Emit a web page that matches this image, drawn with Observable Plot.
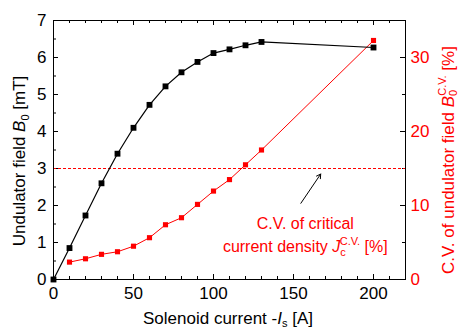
<!DOCTYPE html>
<html><head><meta charset="utf-8">
<script src="https://cdn.jsdelivr.net/npm/d3@7"></script>
<script src="https://cdn.jsdelivr.net/npm/@observablehq/plot@0.6"></script>
<style>body{margin:0;background:#fff} svg{font-family:"Liberation Sans",Arial,sans-serif}
svg g[aria-label$="tick label"]{font-size:17px !important}</style>
</head><body><div id="chart"></div>
<script>
// Undulator field B0 [mT] vs solenoid current
const current = [0,10,20,30,40,50,60,70,80,90,100,110,120,130,200];
const fieldB0 = [0,0.85,1.73,2.6,3.4,4.1,4.72,5.22,5.6,5.88,6.12,6.22,6.33,6.42,6.27];
// C.V. of critical current density [%]
const cvCurrent = [10,20,30,40,50,60,70,80,90,100,110,120,130,200];
const cvPercent = [2.35,2.8,3.4,3.75,4.5,5.65,7.4,8.35,10.15,11.95,13.5,15.5,17.5,32.3];
const thresholdPercent = 15; // C.V. of undulator field
const xMajorTicks = [0,50,100,150,200];
const xMinorTicks = [10,20,30,40,60,70,80,90,110,120,130,140,160,170,180,190,210];
const yLeftMajor = [0,1,2,3,4,5,6,7];
const yLeftMinor = [0.5,1.5,2.5,3.5,4.5,5.5,6.5];
const yRightMajor = [0,10,20,30];
const yRightMinor = [5,15,25,35];
const arrowFrom = {x:154.6, y:2.06};
const arrowTo = {x:167, y:2.85};
const annotX = 157.7, annotY1 = 1.36, annotY2 = 0.74;

const W = 459, H = 330, mL = 53, mR = 54, mT = 20, mB = 51;
const fw = W - mL - mR, fh = H - mT - mB;
const ratio = 5; // right % per left mT unit

const bData = current.map((c,i)=>({x:c, y:fieldB0[i]}));
const rData = cvCurrent.map((c,i)=>({x:c, y:cvPercent[i]/ratio}));

const plot = Plot.plot({
  width: W, height: H,
  marginLeft: mL, marginRight: mR, marginTop: mT, marginBottom: mB,
  x: {domain:[0,220], axis:null},
  y: {domain:[0,7], axis:null},
  style: {fontFamily:'"Liberation Sans",Arial,sans-serif', fontSize:"17px", background:"white"},
  marks: [
    Plot.axisX({ticks: xMajorTicks, tickSize:0, tickPadding:7, fontSize:17, label:null, fill:"black", tickFormat: d=>String(d)}),
    Plot.axisY({ticks: yLeftMajor, tickSize:0, tickPadding:7, fontSize:17, label:null, fill:"black", tickFormat: d=>String(d)}),
    Plot.axisY({anchor:"right", ticks: yRightMajor.map(v=>v/ratio), tickSize:0, tickPadding:5, fontSize:17, label:null, fill:"red", tickFormat: d=>String(Math.round(d*ratio))}),
    // inward ticks
    Plot.tickX(xMajorTicks, {x:d=>d, insetTop: fh-5, stroke:"black"}),
    Plot.tickX(xMinorTicks, {x:d=>d, insetTop: fh-3, stroke:"black"}),
    Plot.tickX(xMajorTicks, {x:d=>d, insetBottom: fh-5, stroke:"black"}),
    Plot.tickX(xMinorTicks, {x:d=>d, insetBottom: fh-3, stroke:"black"}),
    Plot.tickY(yLeftMajor, {y:d=>d, insetRight: fw-5, stroke:"black"}),
    Plot.tickY(yLeftMinor, {y:d=>d, insetRight: fw-3, stroke:"black"}),
    Plot.tickY(yRightMajor, {y:d=>d/ratio, insetLeft: fw-5, stroke:"black"}),
    Plot.tickY(yRightMinor, {y:d=>d/ratio, insetLeft: fw-3, stroke:"black"}),
    Plot.ruleY([thresholdPercent], {y:d=>d/ratio, stroke:"red", strokeWidth:1.2, strokeDasharray:"3,2"}),
    Plot.line(rData, {x:"x", y:"y", stroke:"red", strokeWidth:1}),
    Plot.dot(rData, {x:"x", y:"y", symbol:"square", r:2.9, fill:"red"}),
    Plot.line(bData, {x:"x", y:"y", stroke:"black", strokeWidth:1.2}),
    Plot.dot(bData, {x:"x", y:"y", symbol:"square", r:3.3, fill:"black"}),
    Plot.arrow([{x1:arrowFrom.x, y1:arrowFrom.y, x2:arrowTo.x, y2:arrowTo.y}], {x1:"x1", y1:"y1", x2:"x2", y2:"y2", stroke:"black", strokeWidth:1, headLength:7}),
    Plot.frame({stroke:"black", strokeWidth:1})
  ]
});
document.getElementById("chart").append(plot);

const svg = d3.select(plot);
const sx = plot.scale("x"), sy = plot.scale("y");
const fs = 17, fsSmall = 11;
// x label
const xl = svg.append("text").attr("x", 228).attr("y", 324).attr("text-anchor","middle").attr("font-size", fs).attr("fill","black");
xl.append("tspan").text("Solenoid current -");
xl.append("tspan").attr("font-style","italic").text("I");
xl.append("tspan").attr("font-size",fsSmall).attr("dy",3).text("s");
xl.append("tspan").attr("dy",-3).text(" [A]");
// left y label
const yl = svg.append("text").attr("transform","translate(25,161) rotate(-90)").attr("text-anchor","middle").attr("font-size", fs).attr("fill","black");
yl.append("tspan").text("Undulator field ");
yl.append("tspan").attr("font-style","italic").text("B");
yl.append("tspan").attr("font-size",fsSmall).attr("dy",4).text("0");
yl.append("tspan").attr("dy",-4).text(" [mT]");
// right y label
const yr = svg.append("text").attr("transform","translate(454,160) rotate(-90)").attr("text-anchor","middle").attr("font-size", fs).attr("fill","red");
yr.append("tspan").text("C.V. of undulator field ");
yr.append("tspan").attr("font-style","italic").text("B");
yr.append("tspan").attr("font-size",fsSmall).attr("dy",3).text("0");
yr.append("tspan").attr("font-size",fsSmall).attr("dx",-6).attr("dy",-11).text("C.V.");
yr.append("tspan").attr("dy",8).text(" [%]");
// annotation
const fa = 16;
const a1 = svg.append("text").attr("x", sx.apply(annotX)).attr("y", sy.apply(annotY1)).attr("text-anchor","middle").attr("font-size", fa).attr("fill","red").text("C.V. of critical");
const a2 = svg.append("text").attr("x", sx.apply(annotX)).attr("y", sy.apply(annotY2)).attr("text-anchor","middle").attr("font-size", fa).attr("fill","red");
a2.append("tspan").text("current density ");
a2.append("tspan").attr("font-style","italic").text("J");
a2.append("tspan").attr("font-size",fsSmall).attr("dy",4).text("c");
a2.append("tspan").attr("font-size",fsSmall).attr("dx",-6).attr("dy",-11).text("C.V.");
a2.append("tspan").attr("dy",7).text(" [%]");
</script>
</body></html>
